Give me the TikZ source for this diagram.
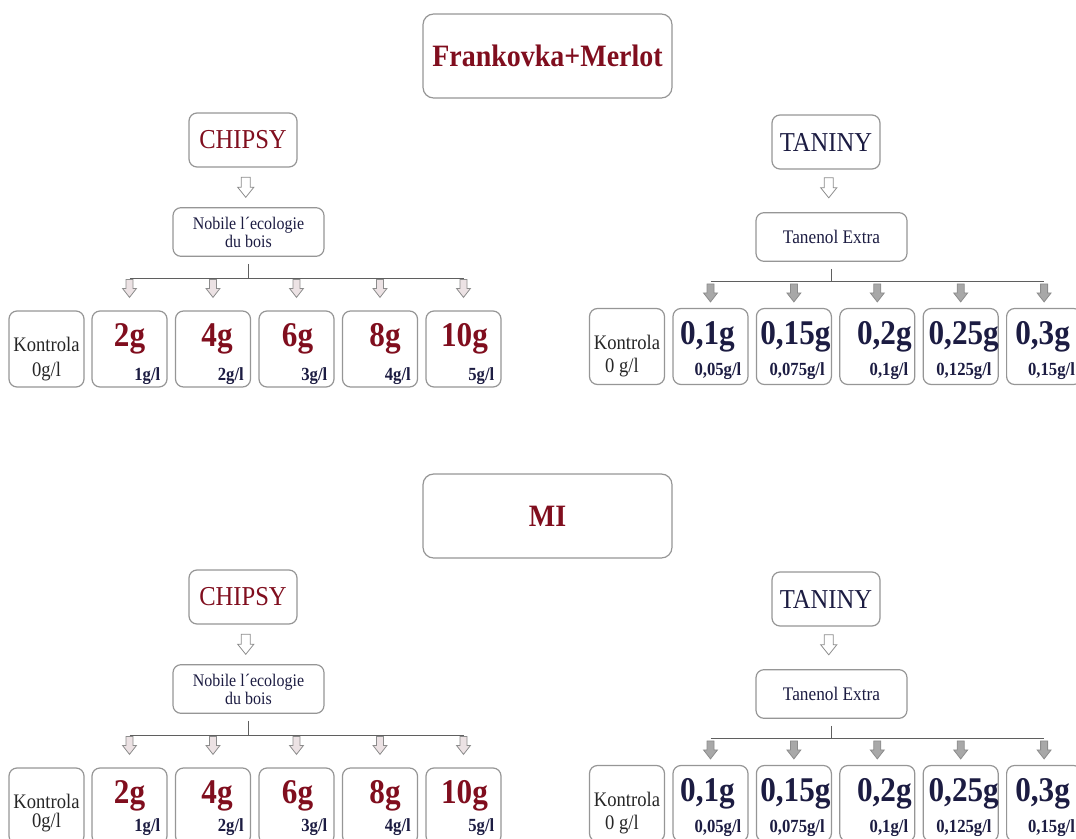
\documentclass[tikz,border=0pt]{standalone}
\usepackage{fontspec}
\setmainfont[FakeStretch=0.9]{Liberation Serif}
\usetikzlibrary{calc}

\definecolor{winered}{RGB}{128,14,30}
\definecolor{inkblue}{RGB}{28,28,66}
\definecolor{boxgray}{RGB}{150,150,150}
\definecolor{linegray}{RGB}{95,95,95}
\definecolor{pinkfill}{RGB}{236,226,228}
\definecolor{tanfill}{RGB}{168,168,168}

\tikzset{
  roundbox/.style={draw=boxgray, line width=0.9pt, rounded corners=6pt, fill=white, inner sep=0pt},
  headbox/.style={roundbox, rounded corners=8pt, minimum width=186.75pt, minimum height=63pt,
    font=\fontsize{23.3}{27}\selectfont\bfseries, text=winered},
  groupbox/.style={roundbox, minimum width=81pt, minimum height=40.5pt,
    font=\fontsize{20.5}{24}\selectfont},
  subbox/.style={roundbox, minimum width=113.25pt, minimum height=36.5pt,
    font=\fontsize{13.3}{13.5}\selectfont, align=center, text=inkblue},
  valbox/.style={roundbox, minimum width=56.25pt, minimum height=57pt},
  bigval/.style={inner sep=0pt, font=\fontsize{26}{30}\selectfont\bfseries},
  smallval/.style={inner sep=0pt, font=\fontsize{13.9}{15}\selectfont\bfseries, text=inkblue},
  ktext/.style={inner sep=0pt, font=\fontsize{15.5}{17}\selectfont, text=black!85},
  treeline/.style={draw=linegray, line width=0.8pt},
  arrowline/.style={draw=black!45, line width=0.6pt, line join=miter},
  pics/hollowdown/.style={code={
    \draw[arrowline, fill=white] (-4.5,0) -- (4.5,0) -- (4.5,10) -- (8,10) -- (0,20) -- (-8,10) -- (-4.5,10) -- cycle;}},
  pics/smalldown/.style={code={
    \draw[arrowline, fill=#1] (-3.5,0) -- (3.5,0) -- (3.5,9) -- (7,9) -- (0,18) -- (-7,9) -- (-3.5,9) -- cycle;}},
}

\begin{document}
\begin{tikzpicture}[x=0.75pt, y=-0.75pt]
\useasboundingbox (0,0) rectangle (1076,839);
\clip (0,0) rectangle (1076,839);
\foreach \h/\head/\k/\sy in {0/Frankovka+Merlot/1/70, 457/MI/2/64}{
  % variety
  \node[headbox] (title\k) at (547.5,{56+\h+3*(\k-1)}) {\head};
  % chips branch
  \node[groupbox, text=winered] (chip\k) at (243,140+\h) {CHIPSY};
  \node[subbox] (nob\k) at (248.5,232+\h) {Nobile l´ecologie\\du bois};
  \pic at ($(chip\k.south)!0.5!(nob\k.north)+(0,-10)$) {hollowdown};
  \node[valbox] (ck\k) at (46.5,349+\h) {};
  \node[ktext, anchor=base] at ($(ck\k.north)+(0,41)$) {Kontrola};
  \node[ktext, anchor=base] at ($(ck\k.north)+(0,\sy-4)$) {0g/l};
  \foreach \n/\dx in {1/0,2/4,3/1,4/5,5/1}{
    \node[valbox] (c\k\n) at ({129.5+83.5*(\n-1)},349+\h) {};
    \node[bigval, text=winered, anchor=base] at ($(c\k\n.north)+(\dx,36)$) {\the\numexpr2*\n\relax g};
    \node[smallval, anchor=base east] at ($(c\k\n.north east)+(-7,\sy)$) {\n g/l};
    \pic at ($(c\k\n.north)+(0,-31)$) {smalldown=pinkfill};
  }
  \draw[treeline] ($(nob\k.south)+(0,7)$) -- ($(nob\k.south |- c\k1.north)+(0,-32)$);
  \draw[treeline] ($(c\k1.north)+(0,-32)$) -- ($(c\k5.north)+(0,-32)$);
  % tannin branch
  \node[groupbox, text=inkblue] (tan\k) at (826,142+\h) {TANINY};
  \node[subbox, font=\fontsize{14.4}{16}\selectfont] (tnl\k) at (831.5,237+\h) {Tanenol Extra};
  \pic at ($(tan\k.south)!0.5!(tnl\k.north)+(0,-13)$) {hollowdown};
  \node[valbox] (tk\k) at (627,346.5+\h) {};
  \node[ktext, anchor=base] at ($(tk\k.north)+(0,42)$) {Kontrola};
  \node[ktext, anchor=base] at ($(tk\k.north)+(-5,65)$) {0 g/l};
  \foreach \v/\s/\dx [count=\n] in {{0,1}/{0,05}/-3, {0,15}/{0,075}/1.5, {0,2}/{0,1}/7, {0,25}/{0,125}/3, {0,3}/{0,15}/-1.5}{
    \node[valbox] (t\k\n) at ({710.5+83.4*(\n-1)},346.5+\h) {};
    \node[bigval, text=inkblue, anchor=base] at ($(t\k\n.north)+(\dx,37)$) {\v g};
    \node[smallval, anchor=base east] at ($(t\k\n.north east)+(-7,68)$) {\s g/l};
    \pic at ($(t\k\n.north)+(0,-24)$) {smalldown=tanfill};
  }
  \draw[treeline] ($(tnl\k.south)+(0,7)$) -- ($(tnl\k.south |- t\k1.north)+(0,-26)$);
  \draw[treeline] ($(t\k1.north)+(0,-26)$) -- ($(t\k5.north)+(0,-26)$);
}
\end{tikzpicture}
\end{document}
